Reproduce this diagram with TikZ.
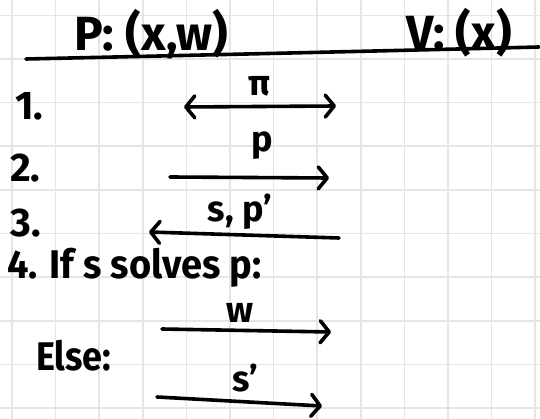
\documentclass[tikz,border=0pt]{standalone}
\usepackage{fontspec}
\setmainfont{Fira Sans}
\usetikzlibrary{arrows.meta}
\newcommand\handtext[2][0.95]{\scalebox{#1}[1]{#2}}
\begin{document}
\begin{tikzpicture}[x=1pt, y=-1pt,
    every node/.style={inner sep=0pt, font=\fontsize{40}{42}\selectfont\bfseries},
    label/.style={font=\fontsize{36}{38}\selectfont\bfseries},
    head/.style={font=\fontsize{48}{50}\selectfont\bfseries},
    msg/.style={line width=3.6pt, line cap=round, -{Straight Barb[length=9pt, width=22pt, line cap=round, line join=round]}},
    both/.style={msg, {Straight Barb[length=9pt, width=22pt, line cap=round, line join=round]}-{Straight Barb[length=9pt, width=22pt, line cap=round, line join=round]}},
    back/.style={msg, {Straight Barb[length=9pt, width=22pt, line cap=round, line join=round]}-}]
    \useasboundingbox (0,0) rectangle (540,419);
    \foreach \k in {0,...,12} \draw[black!10, line width=1.6pt] ({12+43.6*\k},0) -- ({12+43.6*\k},419);
    \foreach \k in {0,...,9} \draw[black!10, line width=1.6pt] (0,{15.5+43.6*\k}) -- (540,{15.5+43.6*\k});

    \node (prover) [head, anchor=base west] at (74,51) {P: (x,w)};
    \node (verifier) [head, anchor=base west] at (406,50) {V: (x)};
    \coordinate (rulel) at (26,59);
    \coordinate (ruler) at (539,47);
    \draw[line width=3.6pt, line cap=round] (rulel) .. controls (250,54) and (420,50) .. (ruler);

    \node (one) [anchor=base west] at (15,120) {1.};
    \node (two) [anchor=base west] at (10,182) {2.};
    \node (three) [anchor=base west] at (10,237) {3.};
    \node (four) [anchor=base west] at (7,279) {\handtext{4. If s solves p:}};
    \node (else) [anchor=base west] at (36,370) {\handtext[0.9]{Else:}};

    \coordinate (m1l) at (184,107);
    \coordinate (m1r) at (336,106);
    \draw[both] (m1l) -- (m1r);
    \node (lpi) [label, anchor=base] at (260,96) {π};

    \coordinate (m2l) at (170,177);
    \coordinate (m2r) at (329,178);
    \draw[msg] (m2l) -- (m2r);
    \node (lp) [label, anchor=base] at (262,152) {p};

    \coordinate (m3l) at (149,232);
    \coordinate (m3r) at (339,238);
    \draw[back] (m3l) -- (m3r);
    \node (lsp) [label, anchor=base] at (240,222) {s, p'};

    \coordinate (m4l) at (162,329);
    \coordinate (m4r) at (331,332);
    \draw[msg] (m4l) -- (m4r);
    \node (lw) [label, anchor=base] at (240,322) {w};

    \coordinate (m5l) at (157,397);
    \coordinate (m5r) at (322,406);
    \draw[msg] (m5l) -- (m5r);
    \node (ls) [label, anchor=base] at (245,391) {s'};
\end{tikzpicture}
\end{document}
